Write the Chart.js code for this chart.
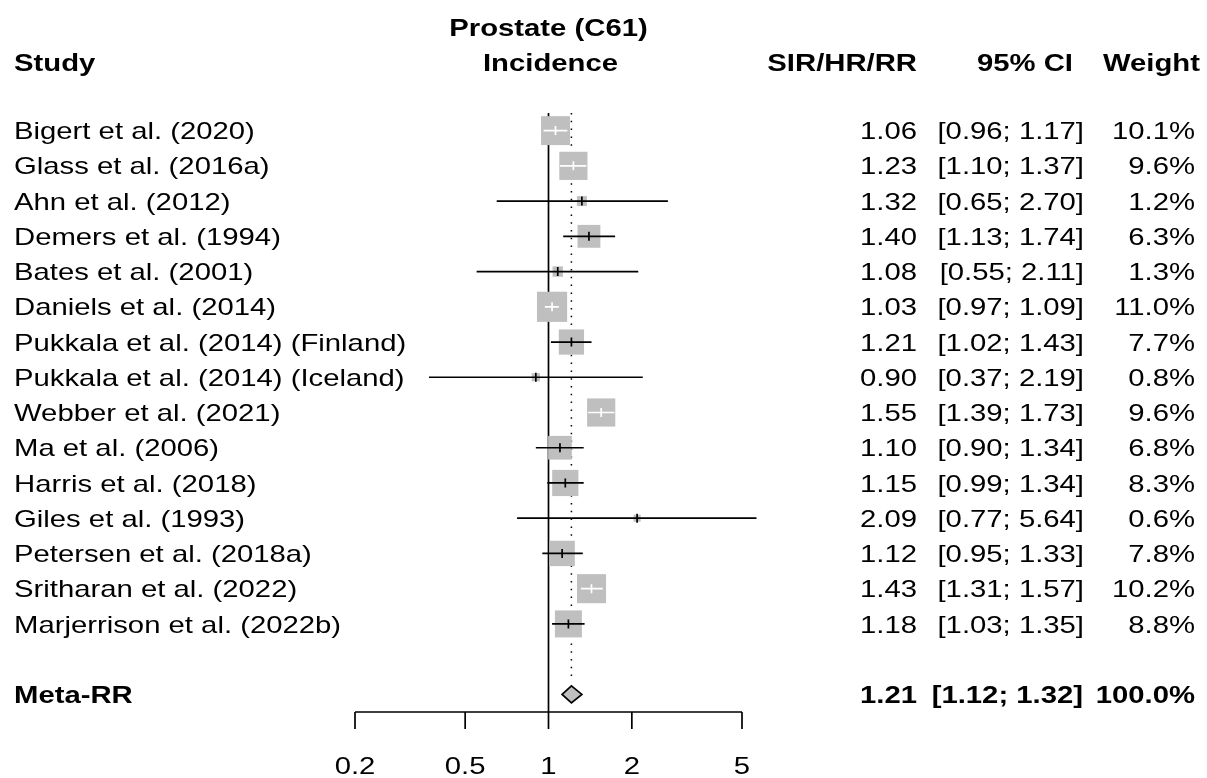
<!DOCTYPE html>
<html>
<head>
<meta charset="utf-8">
<script src="https://cdn.jsdelivr.net/npm/chart.js@4.4.1/dist/chart.umd.min.js"></script>
<style>
  html, body { margin: 0; padding: 0; background: #fff; }
  canvas { display: block; }
</style>
</head>
<body>
<canvas id="forestChart" width="1207" height="778"></canvas>
<script>
const studies = [
    'Bigert et al. (2020)',
    'Glass et al. (2016a)',
    'Ahn et al. (2012)',
    'Demers et al. (1994)',
    'Bates et al. (2001)',
    'Daniels et al. (2014)',
    'Pukkala et al. (2014) (Finland)',
    'Pukkala et al. (2014) (Iceland)',
    'Webber et al. (2021)',
    'Ma et al. (2006)',
    'Harris et al. (2018)',
    'Giles et al. (1993)',
    'Petersen et al. (2018a)',
    'Sritharan et al. (2022)',
    'Marjerrison et al. (2022b)'
];
const estimates = [1.06, 1.23, 1.32, 1.40, 1.08, 1.03, 1.21, 0.90, 1.55, 1.10, 1.15, 2.09, 1.12, 1.43, 1.18];
const lowerCI   = [0.96, 1.10, 0.65, 1.13, 0.55, 0.97, 1.02, 0.37, 1.39, 0.90, 0.99, 0.77, 0.95, 1.31, 1.03];
const upperCI   = [1.17, 1.37, 2.70, 1.74, 2.11, 1.09, 1.43, 2.19, 1.73, 1.34, 1.34, 5.64, 1.33, 1.57, 1.35];
const weights   = [10.1, 9.6, 1.2, 6.3, 1.3, 11.0, 7.7, 0.8, 9.6, 6.8, 8.3, 0.6, 7.8, 10.2, 8.8];

const metaLabel = 'Meta-RR';
const metaEstimate = 1.21;
const metaLower = 1.12;
const metaUpper = 1.32;
const metaWeight = 100.0;

const axisTicks = [0.2, 0.5, 1, 2, 5];

// layout / style
const META_ROW = studies.length + 1;
const SQUARE_K = 9.1;          // square side = K * sqrt(weight)
const GREY = '#bfbfbf';
const LW = 1.7;
const SX = 1.22;               // horizontal stretch of the text
const FONT = '"Liberation Sans", Arial, Helvetica, sans-serif';

function drawText(ctx, str, x, y, align, bold) {
    ctx.save();
    ctx.font = (bold ? 'bold ' : '') + '24px ' + FONT;
    ctx.fillStyle = '#000';
    ctx.textAlign = 'left';
    ctx.textBaseline = 'alphabetic';
    const w = ctx.measureText(str).width * SX;
    let left = x;
    if (align === 'right') left = x - w;
    else if (align === 'center') left = x - w / 2;
    ctx.translate(left, y);
    ctx.scale(SX, 1);
    ctx.fillText(str, 0, 0);
    ctx.restore();
}

function squareSide(w) {
    return SQUARE_K * Math.sqrt(w);
}

const forestPlugin = {
    id: 'forest',
    beforeDatasetsDraw(chart) {
        const ctx = chart.ctx;
        const xs = chart.scales.x, ys = chart.scales.y;
        ctx.save();
        ctx.strokeStyle = '#000';
        ctx.lineWidth = LW;
        // line of no effect
        ctx.beginPath();
        ctx.moveTo(xs.getPixelForValue(1), ys.getPixelForValue(-0.5));
        ctx.lineTo(xs.getPixelForValue(1), ys.getPixelForValue(META_ROW + 0.5));
        ctx.stroke();
        // pooled estimate, dotted
        ctx.lineWidth = 1.5;
        ctx.setLineDash([1.5, 6.3]);
        ctx.beginPath();
        ctx.moveTo(xs.getPixelForValue(metaEstimate), ys.getPixelForValue(-0.5));
        ctx.lineTo(xs.getPixelForValue(metaEstimate), ys.getPixelForValue(META_ROW - 0.5));
        ctx.stroke();
        ctx.restore();
    },
    afterDatasetsDraw(chart) {
        const ctx = chart.ctx;
        const xs = chart.scales.x, ys = chart.scales.y;
        ctx.save();
        ctx.lineWidth = LW;
        estimates.forEach((est, i) => {
            const y = ys.getPixelForValue(i);
            const xe = xs.getPixelForValue(est);
            const xl = xs.getPixelForValue(lowerCI[i]);
            const xu = xs.getPixelForValue(upperCI[i]);
            const half = squareSide(weights[i]) / 2;
            const inside = xl >= xe - half && xu <= xe + half;
            ctx.strokeStyle = inside ? '#fff' : '#000';
            ctx.beginPath();
            ctx.moveTo(xl, y);
            ctx.lineTo(xu, y);
            ctx.moveTo(xe, y - 4.5);
            ctx.lineTo(xe, y + 4.5);
            ctx.stroke();
        });
        // diamond
        const ym = ys.getPixelForValue(META_ROW);
        ctx.beginPath();
        ctx.moveTo(xs.getPixelForValue(metaLower), ym);
        ctx.lineTo(xs.getPixelForValue(metaEstimate), ym - 8.5);
        ctx.lineTo(xs.getPixelForValue(metaUpper), ym);
        ctx.lineTo(xs.getPixelForValue(metaEstimate), ym + 8.5);
        ctx.closePath();
        ctx.fillStyle = GREY;
        ctx.fill();
        ctx.strokeStyle = '#000';
        ctx.stroke();
        ctx.restore();
    },
    afterDraw(chart) {
        const ctx = chart.ctx;
        const xs = chart.scales.x, ys = chart.scales.y;
        const area = chart.chartArea;

        // x axis
        ctx.save();
        ctx.strokeStyle = '#000';
        ctx.lineWidth = LW;
        ctx.beginPath();
        ctx.moveTo(xs.getPixelForValue(axisTicks[0]), area.bottom);
        ctx.lineTo(xs.getPixelForValue(axisTicks[axisTicks.length - 1]), area.bottom);
        axisTicks.forEach(t => {
            const x = xs.getPixelForValue(t);
            ctx.moveTo(x, area.bottom);
            ctx.lineTo(x, area.bottom + 17);
        });
        ctx.stroke();
        ctx.restore();
        axisTicks.forEach(t => {
            drawText(ctx, String(t), xs.getPixelForValue(t), 774, 'center', false);
        });

        // headers
        const xOne = xs.getPixelForValue(1);
        drawText(ctx, 'Prostate (C61)', xOne, 36, 'center', true);
        drawText(ctx, 'Incidence', xOne + 2, 71, 'center', true);
        drawText(ctx, 'Study', 14, 71, 'left', true);
        drawText(ctx, 'SIR/HR/RR', 917, 71, 'right', true);
        drawText(ctx, '95% CI', 1073, 71, 'right', true);
        drawText(ctx, 'Weight', 1200, 71, 'right', true);

        // rows
        studies.forEach((name, i) => {
            const y = ys.getPixelForValue(i) + 8.6;
            drawText(ctx, name, 14, y, 'left', false);
            drawText(ctx, estimates[i].toFixed(2), 917, y, 'right', false);
            drawText(ctx, '[' + lowerCI[i].toFixed(2) + '; ' + upperCI[i].toFixed(2) + ']', 1084, y, 'right', false);
            drawText(ctx, weights[i].toFixed(1) + '%', 1195, y, 'right', false);
        });
        const ym = ys.getPixelForValue(META_ROW) + 8.6;
        drawText(ctx, metaLabel, 14, ym, 'left', true);
        drawText(ctx, metaEstimate.toFixed(2), 917, ym, 'right', true);
        drawText(ctx, '[' + metaLower.toFixed(2) + '; ' + metaUpper.toFixed(2) + ']', 1083, ym, 'right', true);
        drawText(ctx, metaWeight.toFixed(1) + '%', 1195, ym, 'right', true);
    }
};

const ctx = document.getElementById('forestChart').getContext('2d');
new Chart(ctx, {
    type: 'scatter',
    data: {
        datasets: [{
            label: 'Studies',
            data: estimates.map((e, i) => ({ x: e, y: i })),
            pointStyle: 'rect',
            pointRadius: weights.map(w => squareSide(w) / Math.SQRT2),
            pointHoverRadius: weights.map(w => squareSide(w) / Math.SQRT2),
            pointBorderWidth: 0,
            backgroundColor: GREY,
            borderColor: GREY
        }]
    },
    options: {
        responsive: false,
        animation: false,
        devicePixelRatio: 1,
        layout: { padding: { left: 355, right: 465, top: 113, bottom: 66 } },
        plugins: {
            legend: { display: false },
            tooltip: { enabled: false }
        },
        scales: {
            x: { type: 'logarithmic', min: 0.2, max: 5, bounds: 'data', display: false },
            y: { type: 'linear', min: -0.5, max: META_ROW + 0.5, reverse: true, bounds: 'data', display: false }
        }
    },
    plugins: [forestPlugin]
});
</script>
</body>
</html>
